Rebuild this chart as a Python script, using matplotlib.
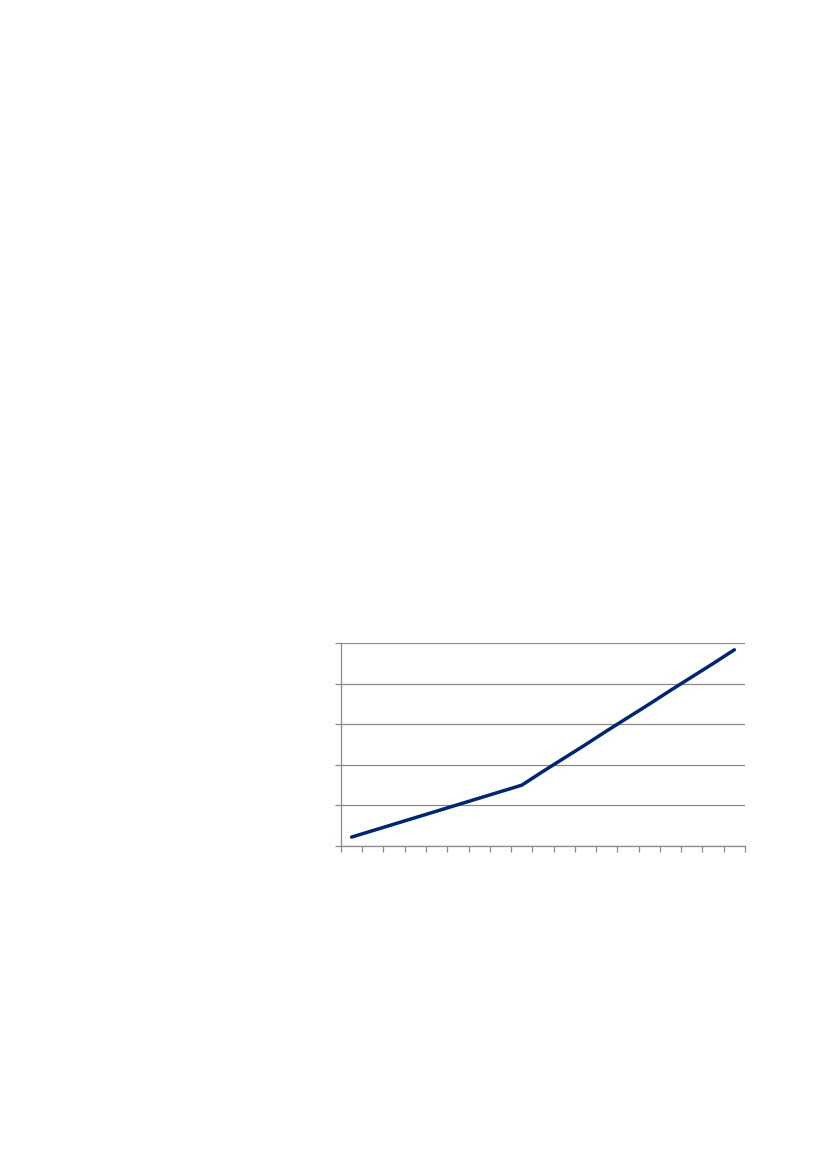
import numpy as np
import matplotlib.pyplot as plt

# 19 categories, values (one gridline = 1 unit)
categories = list(range(1, 20))
values = [0.22, 0.38, 0.54, 0.70, 0.86, 1.02, 1.18, 1.34, 1.50,
          1.84, 2.17, 2.50, 2.84, 3.17, 3.50, 3.84, 4.17, 4.50, 4.84]
y_ticks = [0, 1, 2, 3, 4, 5]

fig = plt.figure(figsize=(8.27, 11.69), dpi=100)
ax = fig.add_axes([0.4123, 0.2763, 0.4885, 0.1734])

x = np.arange(len(categories))
ax.plot(x, values, color='#002672', linewidth=2.5, solid_capstyle='round', zorder=3)

ax.set_xlim(-0.5, len(categories) - 0.5)
ax.set_ylim(0, 5)
ax.set_yticks(y_ticks)
ax.set_xticks(np.arange(-0.5, len(categories), 1.0))
ax.set_xticklabels([])
ax.set_yticklabels([])
ax.yaxis.grid(True, color='#8a8a8a', linewidth=0.9)
ax.set_axisbelow(True)

for s in ['top', 'right']:
    ax.spines[s].set_visible(False)
for s in ['left', 'bottom']:
    ax.spines[s].set_color('#8a8a8a')
    ax.spines[s].set_linewidth(0.9)
ax.tick_params(axis='both', color='#8a8a8a', length=4, width=0.9, direction='out')

fig.savefig('out.png', dpi=100)
